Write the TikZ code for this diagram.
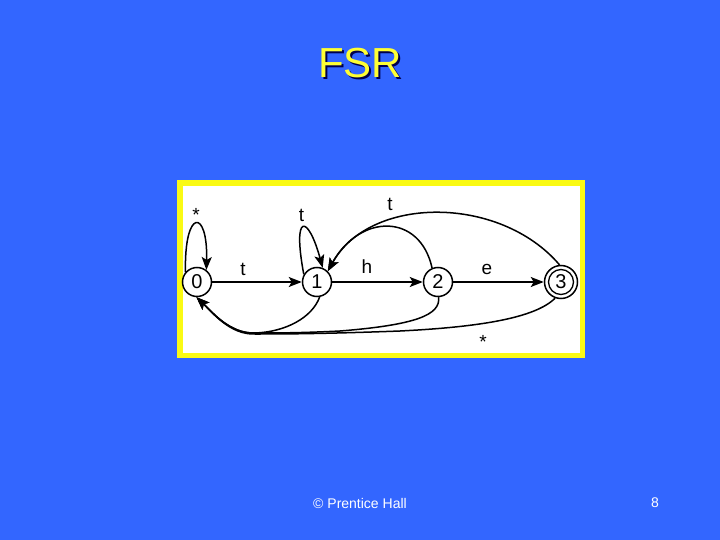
\documentclass[tikz,border=0pt]{standalone}
\usepackage{fontspec}
\setmainfont{Liberation Sans}
\usetikzlibrary{arrows.meta}
\definecolor{bgblue}{RGB}{51,102,255}
\definecolor{ttlyellow}{RGB}{255,255,51}
\definecolor{boxyellow}{RGB}{250,250,20}
\tikzset{
  st/.style={draw=black,line width=1.5pt,fill=white,circle,inner sep=0pt,minimum size=29pt,font=\fontsize{20}{22}\selectfont},
  tr/.style={line width=1.5pt,-{Stealth[length=13pt,width=10pt,inset=3pt]}},
  lab/.style={font=\fontsize{19}{20}\selectfont,inner sep=0pt},
}
\begin{document}
\begin{tikzpicture}[x=1pt,y=-1pt]
\fill[bgblue] (0,0) rectangle (720,540);
\useasboundingbox (0,0) rectangle (720,540);
% title
\node[font=\fontsize{42}{44}\selectfont,text=black!70!blue] (ttlsh) at (362,65.5) {FSR};
\node[font=\fontsize{42}{44}\selectfont,text=ttlyellow] (ttl) at (360,63.5) {FSR};
% box
\fill[boxyellow] (177,180.5) rectangle (585,358);
\fill[white] (183,186) rectangle (580,353);
% states
\node[st] (n0) at (197,282) {0};
\node[st] (n1) at (317,282) {1};
\node[st] (n2) at (438,282) {2};
\node[st,minimum size=33pt] (n3) at (561,282) {};
\draw[line width=1.3pt] (n3.center) circle (12.5pt);
\node[font=\fontsize{20}{22}\selectfont,inner sep=0pt] (n3t) at (n3.center) {3};
% straight transitions
\draw[tr] (n0) -- (n1);
\draw[tr] (n1) -- (n2);
\draw[tr] (n2) -- (n3);
\node[lab] (lt) at (243,269) {t};
\node[lab] (lh) at (367,267) {h};
\node[lab] (le) at (487,269) {e};
% self loops
\draw[tr] (n0.139) .. controls (184,208) and (208,208) .. (n0.52);
\node[lab] (lstar0) at (196,215) {*};
\draw[tr] (n1.150) .. controls (292,212) and (308,214) .. (n1.68);
\node[lab] (lt1) at (301.5,215) {t};
% back to 1
\draw[tr] (n3.95) .. controls (500,195) and (370,195) .. (n1.45);
\draw[tr] (n2.113) .. controls (420,213) and (360,213) .. (n1.45);
\node[lab] (lt2) at (390,204) {t};
% back to 0
\draw[tr] (n1.280) .. controls (312,318) and (285,332) .. (255,333) .. controls (230,334) and (212,312) .. (n0.268);
\draw[tr] (n2.272) .. controls (441,315) and (415,325) .. (340,331) .. controls (300,333) and (275,333) .. (255,333) .. controls (230,334) and (212,312) .. (n0.268);
\draw[tr] (n3.250) .. controls (535,318) and (480,327) .. (400,331) .. controls (320,334) and (280,334) .. (255,334) .. controls (230,335) and (212,312) .. (n0.268);
\node[lab] (lstar) at (483,342) {*};
% footer
\node[font=\fontsize{14}{16}\selectfont,text=white] (ft) at (360,503) {© Prentice Hall};
\node[font=\fontsize{14}{16}\selectfont,text=white] (pg) at (655,503) {8};
\end{tikzpicture}
\end{document}
